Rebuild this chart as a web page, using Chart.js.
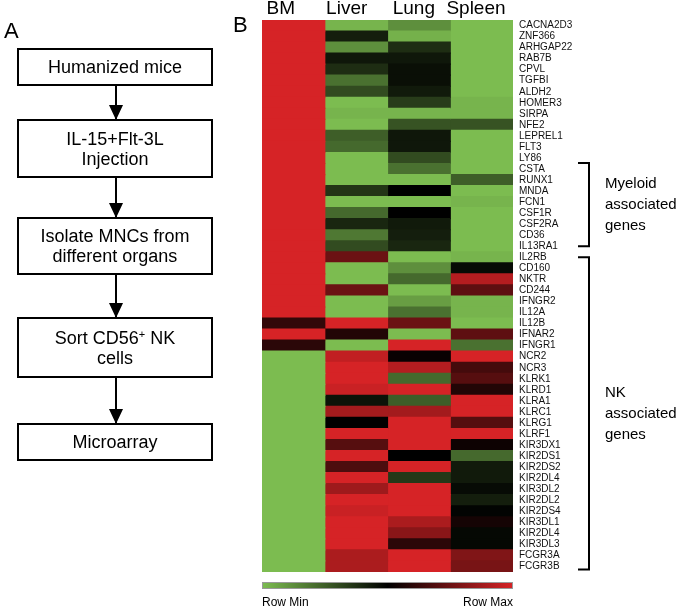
<!DOCTYPE html>
<html>
<head>
<meta charset="utf-8">
<script src="https://cdn.jsdelivr.net/npm/chart.js@4"></script>
<style>
  body { margin: 0; background: #fff; font-family: Arial, "Liberation Sans", sans-serif; }
  #wrap { position: relative; width: 685px; height: 608px; }
  #heat { position: absolute; left: 0; top: 0; }
  .panel { position: absolute; font-size: 22px; color: #000; }
  .box { position: absolute; left: 17px; width: 192px; border: 2px solid #000; font-size: 18px;
         line-height: 20px; text-align: center; display: flex; align-items: center; justify-content: center; }
  .arrow { position: absolute; left: 115px; width: 2px; background: #000; }
  .arrow:after { content: ""; position: absolute; left: -6px; bottom: -1px; border-left: 7px solid transparent;
                 border-right: 7px solid transparent; border-top: 15px solid #000; }
  sup { font-size: 11px; line-height: 0; vertical-align: 6px; }
</style>
</head>
<body>
<div id="wrap">
  <canvas id="heat" width="685" height="608"></canvas>
  <div class="panel" style="left:4px;top:18px">A</div>
  <div class="panel" style="left:233px;top:12px">B</div>
  <div class="box" style="top:48px;height:34px"><span>Humanized mice</span></div>
  <div class="arrow" style="top:86px;height:33px"></div>
  <div class="box" style="top:119px;height:55px"><span>IL-15+Flt-3L<br>Injection</span></div>
  <div class="arrow" style="top:178px;height:39px"></div>
  <div class="box" style="top:217px;height:54px"><span>Isolate MNCs from<br>different organs</span></div>
  <div class="arrow" style="top:275px;height:42px"></div>
  <div class="box" style="top:317px;height:57px"><span>Sort CD56<sup>+</sup> NK<br>cells</span></div>
  <div class="arrow" style="top:378px;height:45px"></div>
  <div class="box" style="top:423px;height:34px"><span>Microarray</span></div>
</div>
<script>
const columns = ["BM", "Liver", "Lung", "Spleen"];
const genes = ["CACNA2D3", "ZNF366", "ARHGAP22", "RAB7B", "CPVL", "TGFBI", "ALDH2", "HOMER3", "SIRPA", "NFE2",
  "LEPREL1", "FLT3", "LY86", "CSTA", "RUNX1", "MNDA", "FCN1", "CSF1R", "CSF2RA", "CD36", "IL13RA1",
  "IL2RB", "CD160", "NKTR", "CD244", "IFNGR2", "IL12A", "IL12B", "IFNAR2", "IFNGR1",
  "NCR2", "NCR3", "KLRK1", "KLRD1", "KLRA1", "KLRC1", "KLRG1", "KLRF1", "KIR3DX1", "KIR2DS1",
  "KIR2DS2", "KIR2DL4", "KIR3DL2", "KIR2DL2", "KIR2DS4", "KIR3DL1", "KIR2DL4", "KIR3DL3", "FCGR3A", "FCGR3B"];

// relative expression, 0 = row min (green), 0.5 = black, 1 = row max (red)
const bm = [1, 1, 1, 1, 1, 1, 1, 1, 1, 1, 1, 1, 1, 1, 1, 1, 1, 1, 1, 1, 1,
  1, 1, 1, 1, 1, 1, 0.62, 1, 0.6,
  0, 0, 0, 0, 0, 0, 0, 0, 0, 0, 0, 0, 0, 0, 0, 0, 0, 0, 0, 0];
const liver = [0.02, 0.42, 0.12, 0.44, 0.38, 0.2, 0.3, 0, 0.02, 0, 0.25, 0.22, 0, 0, 0, 0.36, 0, 0.22, 0.4, 0.18, 0.3,
  0.75, 0, 0, 0.75, 0, 0, 1, 0.58, 0,
  0.95, 1, 1, 0.97, 0.45, 0.88, 0.5, 1, 0.7, 1, 0.68, 1, 0.87, 1, 0.97, 1, 1, 1, 0.9, 0.9];
const lung = [0.12, 0.03, 0.38, 0.44, 0.46, 0.46, 0.43, 0.34, 0.02, 0.28, 0.44, 0.44, 0.3, 0.2, 0, 0.5, 0, 0.5, 0.43, 0.42, 0.4,
  0, 0.12, 0.22, 0, 0.08, 0.2, 0.75, 0, 1,
  0.52, 0.92, 0.22, 1, 0.25, 0.88, 1, 1, 1, 0.5, 1, 0.35, 1, 1, 1, 0.9, 0.82, 0.6, 1, 1];
const spleen = [0, 0, 0, 0, 0, 0, 0, 0.02, 0.02, 0.28, 0, 0, 0, 0, 0.25, 0, 0.02, 0, 0, 0, 0,
  0.02, 0.47, 0.92, 0.72, 0.02, 0.02, 0, 0.72, 0.2,
  1, 0.66, 0.7, 0.58, 1, 1, 0.7, 1, 0.53, 0.22, 0.43, 0.43, 0.47, 0.42, 0.49, 0.55, 0.48, 0.48, 0.8, 0.78];

const groups = [
  { lines: ["Myeloid", "associated", "genes"], from: 13, to: 20 },
  { lines: ["NK", "associated", "genes"], from: 21, to: 49 }
];

const green = [124, 188, 80];
const red = [214, 35, 38];

const heatColor = (v) => {
  let c;
  if (v < 0.5) {
    const t = v / 0.5;
    c = green.map((g) => Math.round(g * (1 - t)));
  } else {
    const t = (v - 0.5) / 0.5;
    c = red.map((r) => Math.round(r * t));
  }
  return `rgb(${c[0]},${c[1]},${c[2]})`;
};

const series = [bm, liver, lung, spleen];
const headerPos = [0.3, 1.35, 2.42, 3.41];

const extras = {
  id: "extras",
  afterDraw(chart) {
    const ctx = chart.ctx;
    const area = chart.chartArea;
    const y = chart.scales.y;
    ctx.save();

    // colour key
    const grad = ctx.createLinearGradient(area.left, 0, area.right, 0);
    grad.addColorStop(0, heatColor(0));
    grad.addColorStop(0.5, heatColor(0.5));
    grad.addColorStop(1, heatColor(1));
    ctx.fillStyle = grad;
    ctx.fillRect(area.left, area.bottom + 10, area.right - area.left, 7);
    ctx.strokeStyle = "#999";
    ctx.lineWidth = 1;
    ctx.strokeRect(area.left + 0.5, area.bottom + 10.5, area.right - area.left - 1, 6);
    ctx.fillStyle = "#000";
    ctx.font = "12px Arial";
    ctx.textBaseline = "alphabetic";
    ctx.textAlign = "left";
    ctx.fillText("Row Min", area.left, 606);
    ctx.textAlign = "right";
    ctx.fillText("Row Max", area.right, 606);

    // gene group brackets
    ctx.strokeStyle = "#000";
    ctx.lineWidth = 2;
    ctx.font = "15px Arial";
    ctx.textAlign = "left";
    ctx.textBaseline = "middle";
    const bx = area.right + 76;
    groups.forEach((g, gi) => {
      const top = y.getPixelForValue(g.from) - (gi == 0 ? 6 : 0);
      const bottom = y.getPixelForValue(g.to) + (gi == 0 ? 0 : 3);
      ctx.beginPath();
      ctx.moveTo(bx - 11, top);
      ctx.lineTo(bx, top);
      ctx.lineTo(bx, bottom);
      ctx.lineTo(bx - 11, bottom);
      ctx.stroke();
      const mid = (top + bottom) / 2;
      g.lines.forEach((line, i) => {
        ctx.fillText(line, bx + 16, mid + (i - 1) * 21);
      });
    });
    ctx.restore();
  }
};

const ctx = document.getElementById("heat").getContext("2d");
const heatChart = new Chart(ctx, {
  type: "bar",
  data: {
    labels: genes,
    datasets: series.map((vals, i) => ({
      label: columns[i],
      data: genes.map(() => [i, i + 1]),
      backgroundColor: vals.map(heatColor),
      borderWidth: 0,
      inflateAmount: 0.6,
      grouped: false,
      barPercentage: 1,
      categoryPercentage: 1
    }))
  },
  options: {
    indexAxis: "y",
    responsive: false,
    animation: false,
    layout: { padding: { left: 262, top: 0, right: 0, bottom: 36 } },
    plugins: { legend: { display: false }, tooltip: { enabled: false } },
    scales: {
      x: {
        type: "linear",
        position: "top",
        min: 0,
        max: 4,
        grid: { display: false, drawTicks: false },
        border: { display: false },
        afterBuildTicks: (axis) => {
          axis.ticks = headerPos.map((v) => ({ value: v }));
        },
        afterFit: (axis) => { axis.height = 20; },
        ticks: {
          autoSkip: false,
          maxRotation: 0,
          padding: 0,
          color: "#000",
          font: { family: "Arial", size: 19 },
          callback: (value, index) => columns[index]
        }
      },
      y: {
        type: "category",
        position: "right",
        grid: { display: false, drawTicks: false },
        border: { display: false },
        afterFit: (axis) => { axis.width = 172; },
        ticks: {
          autoSkip: false,
          padding: 6,
          color: "#111",
          font: { family: "Arial", size: 10 }
        }
      }
    }
  },
  plugins: [extras]
});
</script>
</body>
</html>
